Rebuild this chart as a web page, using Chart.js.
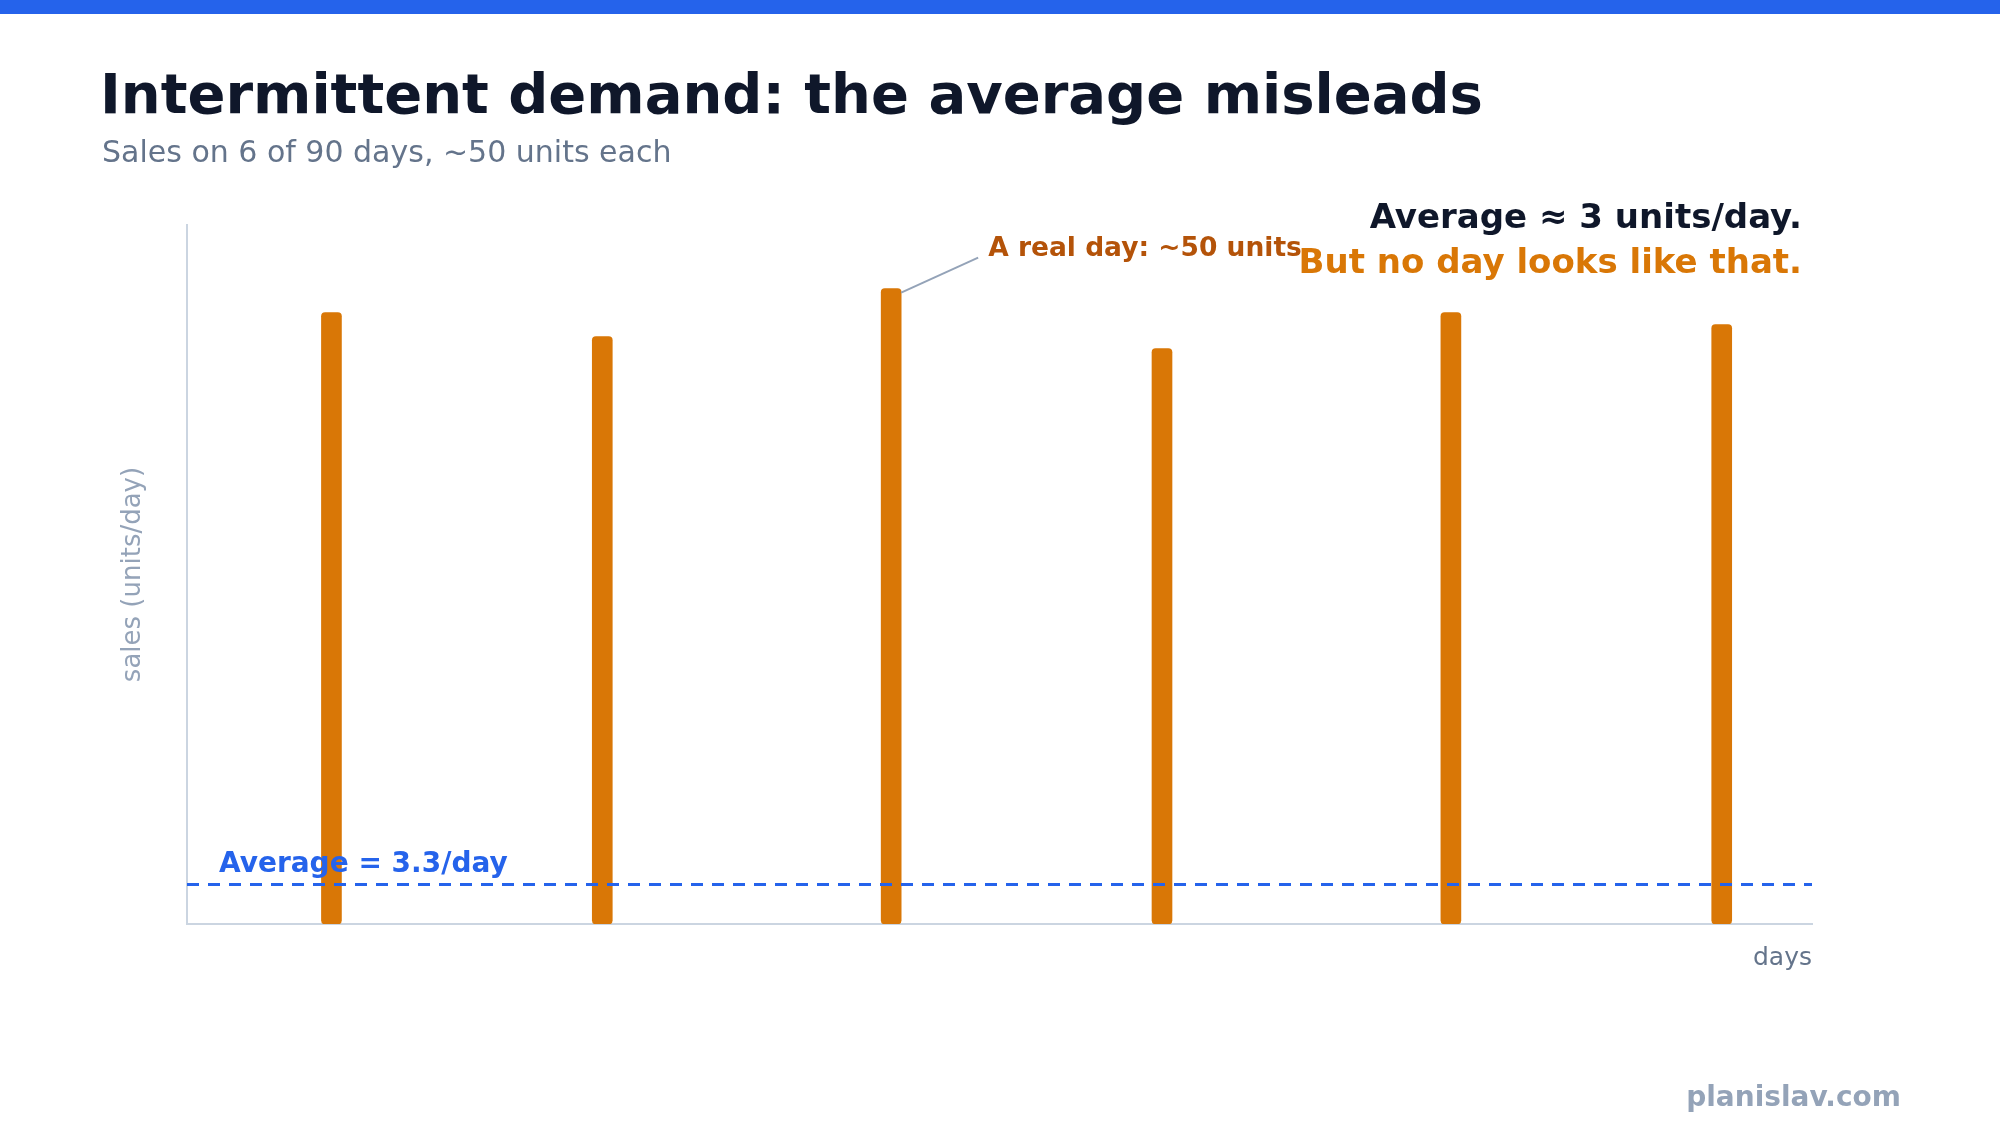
<!DOCTYPE html>
<html>
<head>
<meta charset="utf-8">
<script src="https://cdn.jsdelivr.net/npm/chart.js@4.4.1/dist/chart.umd.min.js"></script>
<style>
  html, body { margin: 0; padding: 0; background: #ffffff; }
  #wrap { position: relative; width: 2000px; height: 1125px; }
</style>
</head>
<body>
<div id="wrap"><canvas id="demandChart" width="2000" height="1125"></canvas></div>
<script>
// days (out of 90) on which a sale happened, and units sold that day
const saleDays = [8, 23, 39, 54, 70, 85];
const saleUnits = [51, 49, 53, 48, 51, 50];
const totalDays = 90;
const averageUnits = 3.3;
const highlightIndex = 2; // the bar the "real day" note points at

const FONT = "'DejaVu Sans', sans-serif";

const points = saleDays.map((d, i) => ({ x: d, y: saleUnits[i] }));

const overlay = {
  id: 'overlay',
  afterDatasetsDraw(chart) {
    const ctx = chart.ctx;
    const { left, right, top, bottom } = chart.chartArea;
    const xs = chart.scales.x;
    const ys = chart.scales.y;

    ctx.save();

    // top stripe
    ctx.fillStyle = '#2563eb';
    ctx.fillRect(0, 0, chart.width, 14);

    // headline
    ctx.textAlign = 'left';
    ctx.textBaseline = 'alphabetic';
    ctx.fillStyle = '#0f172a';
    ctx.font = `bold 56px ${FONT}`;
    ctx.fillText('Intermittent demand: the average misleads', 100, 113);
    ctx.fillStyle = '#64748b';
    ctx.font = `30px ${FONT}`;
    ctx.fillText('Sales on 6 of 90 days, ~50 units each', 102, 162);

    // average line
    const avgY = ys.getPixelForValue(averageUnits);
    ctx.strokeStyle = '#2563eb';
    ctx.lineWidth = 3;
    ctx.setLineDash([12, 9]);
    ctx.beginPath();
    ctx.moveTo(left, avgY);
    ctx.lineTo(right, avgY);
    ctx.stroke();
    ctx.setLineDash([]);

    ctx.fillStyle = '#2563eb';
    ctx.font = `bold 28px ${FONT}`;
    ctx.fillText(`Average = ${averageUnits}/day`, left + 32, avgY - 12);

    // callout to one real day
    const bx = xs.getPixelForValue(saleDays[highlightIndex]) + 10;
    const by = ys.getPixelForValue(saleUnits[highlightIndex]) + 4;
    ctx.strokeStyle = '#94a3b8';
    ctx.lineWidth = 2;
    ctx.beginPath();
    ctx.moveTo(bx, by);
    ctx.lineTo(bx + 77, by - 35);
    ctx.stroke();
    ctx.fillStyle = '#b45309';
    ctx.font = `bold 26.5px ${FONT}`;
    ctx.fillText('A real day: ~50 units', bx + 87, by - 37);

    // message, top right
    ctx.textAlign = 'right';
    ctx.font = `bold 34px ${FONT}`;
    ctx.fillStyle = '#0f172a';
    ctx.fillText('Average \u2248 3 units/day.', 1802, 228);
    ctx.fillStyle = '#d97706';
    ctx.fillText('But no day looks like that.', 1802, 273);

    // axis titles
    ctx.fillStyle = '#64748b';
    ctx.font = `25px ${FONT}`;
    ctx.fillText('days', right, bottom + 41);

    ctx.save();
    ctx.translate(140, (top + bottom) / 2);
    ctx.rotate(-Math.PI / 2);
    ctx.textAlign = 'center';
    ctx.fillStyle = '#94a3b8';
    ctx.font = `26px ${FONT}`;
    ctx.fillText('sales (units/day)', 0, 0);
    ctx.restore();

    // watermark
    ctx.textAlign = 'right';
    ctx.fillStyle = '#94a3b8';
    ctx.font = `bold 28px ${FONT}`;
    ctx.fillText('planislav.com', 1901, 1106);

    ctx.restore();
  }
};

new Chart(document.getElementById('demandChart'), {
  type: 'bar',
  data: {
    datasets: [{
      label: 'sales',
      data: points,
      backgroundColor: '#d97706',
      borderWidth: 0,
      borderRadius: 4,
      borderSkipped: false,
      barThickness: 20
    }]
  },
  options: {
    responsive: false,
    animation: false,
    layout: { padding: { left: 187, right: 188, top: 225, bottom: 201 } },
    scales: {
      x: {
        type: 'linear',
        min: 0,
        max: totalDays,
        offset: false,
        grid: { display: false, drawTicks: false },
        ticks: { display: false },
        border: { display: true, color: '#cbd5e1', width: 2 }
      },
      y: {
        min: 0,
        max: Math.max(...saleUnits) * 1.1,
        grid: { display: false, drawTicks: false },
        ticks: { display: false },
        border: { display: true, color: '#cbd5e1', width: 2 }
      }
    },
    plugins: {
      legend: { display: false },
      tooltip: { enabled: false }
    }
  },
  plugins: [overlay]
});
</script>
</body>
</html>
